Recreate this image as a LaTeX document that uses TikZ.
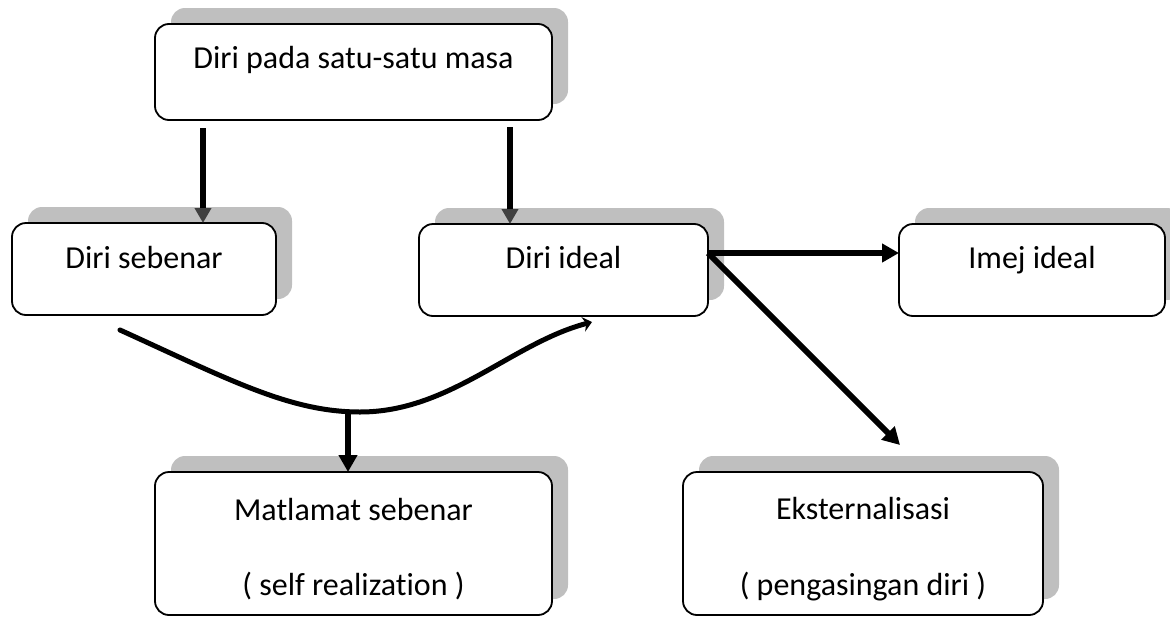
\documentclass[tikz,border=0pt]{standalone}
\usepackage{fontspec}
\setmainfont{Carlito}[Ligatures={NoCommon}]
\usetikzlibrary{arrows.meta,shadows,calc}
\definecolor{shade}{RGB}{191,191,191}
\definecolor{headgray}{RGB}{64,64,64}
\begin{document}
\begin{tikzpicture}[x=1pt,y=-1pt,
  box/.style={draw, line width=1.8pt, fill=white, rounded corners=14pt, inner sep=0pt, outer sep=0pt,
    general shadow={fill=shade, shadow xshift=16pt, shadow yshift=16pt}},
  txt/.style={anchor=base, inner sep=0pt, font=\fontsize{32}{38}\selectfont},
  garr/.style={line width=6pt, -{Triangle[length=15pt,width=16pt,color=headgray]}},
  barr/.style={line width=6pt, -{Triangle[length=17pt,width=18pt]}},
  carr/.style={line width=5pt, line cap=round, -{Stealth[length=9pt,width=15pt,inset=3pt]}}
]
\useasboundingbox (0,0) rectangle (1170,616);
% boxes
\node[box, minimum width=397pt, minimum height=96pt]  (b1) at (353.5,72) {};
\node[box, minimum width=264pt, minimum height=92pt]  (b2) at (144,269) {};
\node[box, minimum width=289pt, minimum height=92pt]  (b3) at (563.5,270) {};
\node[box, minimum width=266pt, minimum height=92pt]  (b4) at (1032,270) {};
\node[box, minimum width=397pt, minimum height=143pt] (b5) at (353.5,543.5) {};
\node[box, minimum width=360pt, minimum height=143pt] (b6) at (863,543.5) {};
% texts
\node[txt] (t1) at (353.5,68) {Diri pada satu-satu masa};
\node[txt] (t2) at (144,268) {Diri sebenar};
\node[txt] (t3) at (563.5,268) {Diri ideal};
\node[txt] (t4) at (1032,268) {Imej ideal};
\node[txt] (t5a) at (353.5,520) {Matlamat sebenar};
\node[txt] (t5b) at (353.5,595) {( self realization )};
\node[txt] (t6a) at (863,519) {Eksternalisasi};
\node[txt] (t6b) at (863,595) {( pengasingan diri )};
% arrows from top box
\draw[garr] ([xshift=48pt,yshift=-8pt]b1.south west) -- ([xshift=48pt]b1.south west |- b2.north);
\draw[garr] ([xshift=-42pt,yshift=-7pt]b1.south east) -- ([xshift=-42pt]b1.south east |- b3.north);
% from Diri ideal
\coordinate (o3) at ([yshift=17pt]b3.east);
\draw[barr] (o3) -- (o3 -| b4.west);
\coordinate (e6) at (900,445);
\draw[barr] (o3) -- (e6);
% curve
\coordinate (cs) at (120,330);
\coordinate (cm) at (360,412);
\coordinate (ce) at (592,322);
\draw[carr] (cs) .. controls (230,380) and (290,412) .. (cm) .. controls (450,412) and (512,343) .. (ce);
\coordinate (dm) at (348,410);
\draw[barr] (dm) -- (dm |- b5.north) ;
\end{tikzpicture}
\end{document}
